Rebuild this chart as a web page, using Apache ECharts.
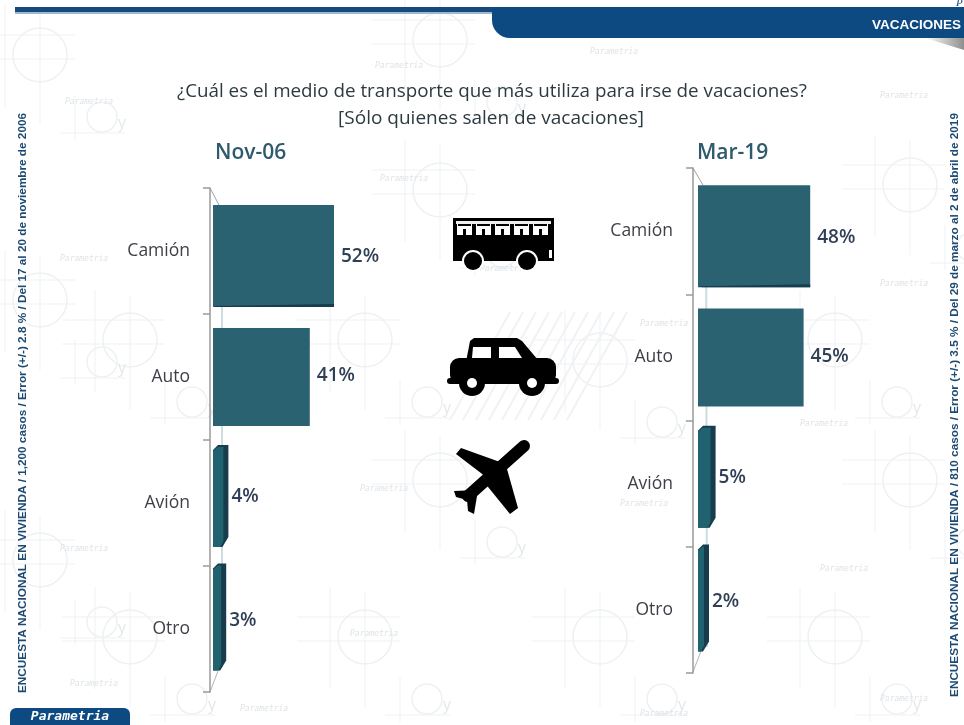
<!DOCTYPE html>
<html><head><meta charset="utf-8">
<style>html,body{margin:0;padding:0;background:#fff}#c{width:964px;height:725px}</style>
<script src="https://cdn.jsdelivr.net/npm/echarts@6/dist/echarts.min.js"></script>
</head><body><div id="c"></div>
<script>
const categories = ['Camión', 'Auto', 'Avión', 'Otro'];
const nov06 = [52, 41, 4, 3];
const mar19 = [48, 45, 5, 2];
const periods = ['Nov-06', 'Mar-19'];
const questionText = '¿Cuál es el medio de transporte que más utiliza para irse de vacaciones?';
const subtitleText = '[Sólo quienes salen de vacaciones]';
const leftNote = 'ENCUESTA NACIONAL EN VIVIENDA / 1,200 casos / Error (+/-) 2.8 % / Del 17 al 20 de noviembre de 2006';
const rightNote = 'ENCUESTA NACIONAL EN VIVIENDA / 810 casos / Error (+/-) 3.5 % / Del 29 de marzo al 2 de abril de 2019';

const AXIS_MIN = -3, AXIS_MAX = 60;
const TEAL = '#2b6272', DARK = '#173c4c', WM = '#eef1f3', UI = 'Open Sans';
const perspectiveShift = [5, 0, -7, -12];

function renderBar(params, api) {
  const i = api.value(1), v = api.value(0);
  const x0 = api.coord([AXIS_MIN, i])[0];
  const p = api.coord([v, i]);
  const x1 = p[0], yc = p[1] + perspectiveShift[i];
  const h = i === 3 ? 107 : (i === 0 ? 102 : (i === 1 ? 98 : 102));
  const top = yc - h / 2, bot = yc + h / 2;
  const kids = [];
  if (i >= 2) {
    kids.push({type: 'polygon', shape: {points: [[x0, top + 5], [x0 + 5, top], [x1, top], [x1, bot - 10], [x1 - 6, bot], [x0, bot]]}, style: {fill: DARK}});
    kids.push({type: 'polygon', shape: {points: [[x0, top + 6], [x0 + 5, top + 2], [x1 - 5, top + 2], [x1 - 5, bot - 6], [x1 - 8, bot], [x0, bot]]}, style: {fill: '#20626f'}});
  } else {
    kids.push({type: 'rect', shape: {x: x0, y: top, width: x1 - x0, height: h}, style: {fill: TEAL}});
    if (i === 0) kids.push({type: 'polygon', shape: {points: [[x0, bot - 1], [x1, bot - 3], [x1, bot], [x0 + 4, bot]]}, style: {fill: DARK}});
  }
  kids.push({type: 'text', x: x1 + (i >= 2 ? 3 : 7), y: yc + 1 + (i === 3 ? 3 : 0) - (i === 1 ? 2 : 0),
    style: {text: v + '%', fill: '#2f3f55', font: '600 19px "' + UI + '"', textAlign: 'left', textVerticalAlign: 'middle'}});
  return {type: 'group', children: kids};
}

function line(x1, y1, x2, y2, color, w) {
  return {type: 'line', silent: true, shape: {x1, y1, x2, y2}, style: {stroke: color, lineWidth: w || 1}};
}
function poly(points, fill) { return {type: 'polygon', silent: true, shape: {points}, style: {fill}}; }
function rect(x, y, width, height, fill, r) { return {type: 'rect', silent: true, shape: {x, y, width, height, r: r || 0}, style: {fill}}; }
function circ(cx, cy, r, fill, stroke, lw) { return {type: 'circle', silent: true, shape: {cx, cy, r}, style: {fill: fill, stroke: stroke, lineWidth: lw || 0}}; }

const g = [];
function wmTile(x, y) {
  g.push(circ(x, y, 27, 'none', WM, 1.5));
  g.push(line(x - 68, y - 20, x + 35, y - 20, WM, 1), line(x - 68, y + 4, x + 35, y + 4, WM, 1));
  g.push(line(x - 35, y - 50, x - 35, y + 52, WM, 1), line(x, y - 45, x, y + 70, WM, 1));
  g.push(circ(x + 62, y + 62, 15, 'none', WM, 1.5));
  g.push(line(x + 35, y + 40, x + 35, y + 85, WM, 1), line(x + 20, y + 78, x + 85, y + 78, WM, 1));
  g.push({type: 'text', silent: true, x: x + 78, y: y + 60, style: {text: 'y', fill: '#e3e8ea', font: '16px "Open Sans"'}});
}
[[40, 55], [440, 40], [910, 185], [835, 340], [910, 480], [835, 637], [600, 360], [600, 637], [440, 190], [365, 340], [440, 480], [365, 637], [130, 340], [130, 637], [40, 300], [40, 560]].forEach(p => wmTile(p[0], p[1]));
[[65, 98], [375, 62], [590, 48], [880, 92], [60, 255], [240, 355], [480, 265], [640, 320], [800, 420], [60, 545], [360, 485], [620, 500], [820, 565], [350, 630], [880, 695], [70, 680], [240, 705], [640, 710], [880, 280], [380, 175]].forEach(p => {
  g.push({type: 'text', silent: true, x: p[0], y: p[1], style: {text: 'Parametria', fill: '#dfe4e8', font: 'italic 8px "DejaVu Sans Mono"'}});
});

// hatch behind car
[0, 1, 2, 3, 4, 5, 6, 7, 8, 9].forEach(k => g.push(line(450 + k * 13, 420, 510 + k * 13, 312, '#f1f2f4', 2)));

// 3D floor hints
[[210, 188, 219, 205, 222, 692], [693, 168, 703, 185, 707, 672]].forEach(a => {
  g.push(line(a[0], a[1], a[2], a[3], '#9aa3a6', 1));
  g.push(line(a[2] + 3, a[3], a[4], a[5] - 25, '#cbdde0', 2));
  g.push(line(a[0], a[5], a[0] + 8, a[5] - 21, '#aeb6b8', 1));
});

// header
g.push(rect(15, 7, 477, 5, '#164a7c'), rect(15, 12, 477, 2, '#9db9d2'));
g.push(rect(492, 7, 472, 31, '#0d4a82', [0, 0, 0, 18]));
g.push({type: 'text', silent: true, x: 961, y: 25, style: {text: 'VACACIONES', fill: '#fff', font: 'bold 13.5px "Liberation Sans"', textAlign: 'right', textVerticalAlign: 'middle'}});
g.push({type: 'text', silent: true, x: 956, y: 3, style: {text: 'P', fill: '#164a7c', font: 'italic 11px "Liberation Serif"', textVerticalAlign: 'middle'}});
g.push({type: 'polygon', silent: true, shape: {points: [[925, 38], [964, 38], [964, 50]]}, style: {fill: {type: 'linear', x: 0, y: 0, x2: 1, y2: 0, colorStops: [{offset: 0, color: '#ffffff'}, {offset: 1, color: '#8f8f8f'}]}}});

// footer
g.push(rect(10, 708, 120, 17, '#0d4a82', [6, 6, 0, 0]));
g.push({type: 'text', silent: true, x: 70, y: 717, style: {text: 'Parametria', fill: '#fff', font: 'italic bold 13px "DejaVu Sans Mono"', textAlign: 'center', textVerticalAlign: 'middle'}});

// side notes
[[23, 403, leftNote], [955, 405, rightNote]].forEach(a => {
  g.push({type: 'text', silent: true, x: a[0], y: a[1], rotation: Math.PI / 2, style: {text: a[2], fill: '#1d4a72', font: 'bold 11.75px "Liberation Sans"', textAlign: 'center', textVerticalAlign: 'middle'}});
});

// bus icon
g.push(rect(453, 218, 101, 43, '#000'));
g.push(rect(456, 221, 95, 3, '#eee'));
[457, 476, 495, 514, 533].forEach(x => g.push(rect(x, 224, 15, 11, '#fff'), rect(x + 6, 229, 3, 7, '#000'), rect(x + 1, 224, 13, 2, '#000')));
g.push(rect(549, 250, 3, 8, '#fff'));
[473, 527].forEach(x => g.push(circ(x, 261, 11, '#fff'), circ(x, 261, 9, '#000')));

// car icon
g.push(poly([[466, 362], [470, 341], [474, 338], [517, 338], [522, 341], [538, 360]], '#000'));
g.push(rect(450, 358, 106, 26, '#000', 9));
g.push(rect(447, 378, 112, 6, '#000', 3));
g.push(poly([[473, 347], [491, 347], [491, 358], [472, 358]], '#fff'), poly([[499, 347], [515, 347], [522, 358], [499, 358]], '#fff'));
[472, 532].forEach(x => g.push(circ(x, 383, 13, '#000'), circ(x, 383, 5, '#fff')));

// plane icon
g.push({type: 'line', silent: true, shape: {x1: 524, y1: 446, x2: 468, y2: 496}, style: {stroke: '#000', lineWidth: 12, lineCap: 'round'}});
g.push(poly([[456, 454], [461, 448], [500, 462], [490, 480]], '#000'), poly([[505, 462], [484, 482], [510, 514], [518, 508]], '#000'), poly([[454, 491], [478, 490], [474, 514], [468, 511], [467, 500], [456, 497]], '#000'));

const titleFont = {fontFamily: 'Open Sans', color: '#2c3a40'};
const option = {
  backgroundColor: '#fff',
  animation: false,
  title: [
    {text: questionText, left: 487, top: 77, textAlign: 'center', textStyle: {...titleFont, fontSize: 18.8, fontWeight: 400}},
    {text: subtitleText, left: 486, top: 104, textAlign: 'center', textStyle: {...titleFont, fontSize: 19, fontWeight: 400}},
    {text: periods[0], left: 210, top: 138, textStyle: {fontFamily: UI, fontSize: 21, fontWeight: 600, color: '#2d5a6c'}},
    {text: periods[1], left: 692, top: 138, textStyle: {fontFamily: UI, fontSize: 21, fontWeight: 600, color: '#2d5a6c'}}
  ],
  grid: [
    {left: 213, top: 188, width: 138.6, height: 504},
    {left: 698, top: 168, width: 138.6, height: 505}
  ],
  xAxis: [0, 1].map(i => ({type: 'value', gridIndex: i, min: AXIS_MIN, max: AXIS_MAX, show: false})),
  yAxis: [3, 5].map((off, i) => ({
    type: 'category', gridIndex: i, data: categories, inverse: true, offset: off,
    axisLine: {show: true, onZero: false, lineStyle: {color: '#9a9a9a', width: 1.5}},
    axisTick: {show: true, length: 7, lineStyle: {color: '#9a9a9a', width: 1.5}},
    axisLabel: {margin: 20, fontFamily: UI, fontSize: 17.5, color: '#404048', padding: [4, 0, 0, 0]}
  })),
  series: [nov06, mar19].map((vals, i) => ({
    type: 'custom', name: periods[i], xAxisIndex: i, yAxisIndex: i, z: 5, clip: false,
    encode: {x: 0, y: 1},
    renderItem: renderBar,
    data: vals.map((v, k) => [v, k])
  })),
  graphic: {elements: g}
};
const chart = echarts.init(document.getElementById('c'), null, {renderer: 'canvas'});
chart.setOption(option);
</script></body></html>
